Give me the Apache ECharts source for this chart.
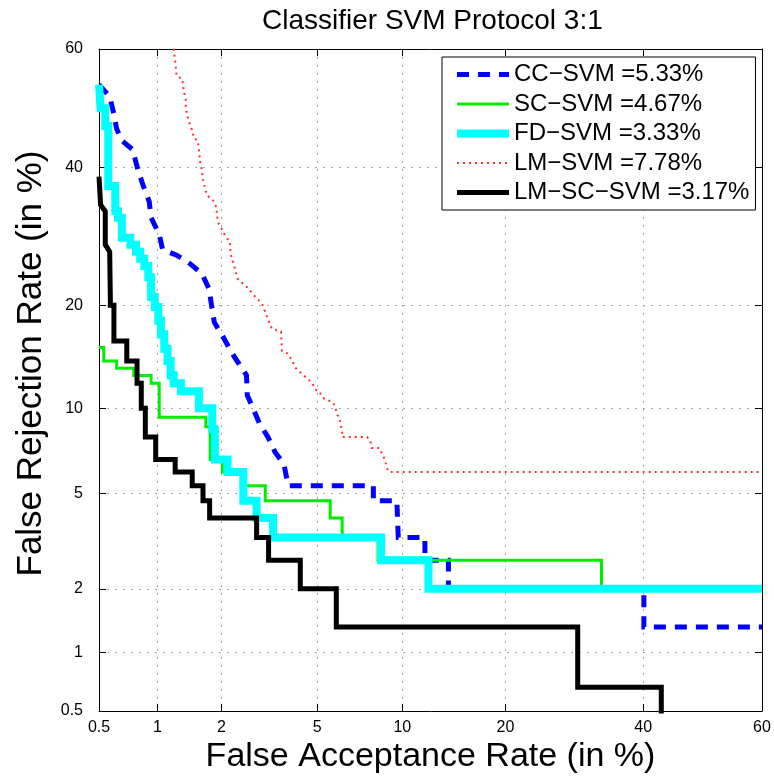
<!DOCTYPE html>
<html>
<head>
<meta charset="utf-8">
<title>Classifier SVM Protocol 3:1</title>
<script src="https://cdn.jsdelivr.net/npm/echarts@6/dist/echarts.min.js"></script>
<style>
  html, body { margin: 0; padding: 0; background: #fff; }
  #chart { width: 774px; height: 777px; }
</style>
</head>
<body>
<div id="chart"></div>
<script>
// DET curves, values in % : [FAR, FRR]
const ccSvm = [[0.5, 54], [0.57, 52], [0.6, 49], [0.62, 46.5], [0.66, 44.5], [0.75, 43], [0.8, 39.5], [0.85, 37],
  [0.91, 34.5], [0.93, 32], [1.02, 29.5], [1.06, 27.3], [1.24, 26.5], [1.44, 25.3], [1.63, 24], [1.76, 22],
  [1.81, 19.8], [1.86, 18], [2.03, 16.5], [2.2, 15], [2.35, 14], [2.58, 12.7], [2.6, 11], [2.75, 10],
  [2.93, 8.9], [3.18, 8], [3.4, 7.1], [3.7, 6.4], [3.85, 5.33], [8.0, 5.33], [8.0, 4.67], [9.6, 4.67],
  [9.7, 3.33], [11.8, 3.33], [11.8, 2.67], [13.9, 2.67], [13.9, 2.0], [40.1, 2.0], [40.1, 1.33], [60, 1.33]]
const scSvm = [[0.5, 15.33], [0.53, 15.33], [0.53, 14], [0.62, 14], [0.62, 13.33], [0.76, 13.33], [0.76, 12.67],
  [0.93, 12.67], [0.93, 12], [1.02, 12], [1.02, 9.33], [1.7, 9.33], [1.7, 8.67], [1.78, 8.67], [1.78, 6.67],
  [2.02, 6.67], [2.02, 6.0], [2.45, 6.0], [2.45, 5.33], [3.1, 5.33], [3.1, 4.67], [5.6, 4.67], [5.6, 4.0],
  [6.2, 4.0], [6.2, 3.33], [8.3, 3.33], [8.3, 2.67], [33.3, 2.67], [33.3, 2.0], [60, 2.0]]
const fdSvm = [[0.5, 54], [0.51, 54], [0.51, 50], [0.54, 50], [0.54, 47], [0.56, 47], [0.56, 37], [0.61, 37],
  [0.61, 33], [0.63, 33], [0.63, 32], [0.66, 32], [0.66, 29], [0.73, 29], [0.73, 28], [0.78, 28], [0.78, 27],
  [0.82, 27], [0.82, 26], [0.86, 26], [0.86, 25], [0.9, 25], [0.9, 23.5], [0.93, 23.5], [0.93, 21], [0.97, 21],
  [0.97, 19.8], [1.01, 19.8], [1.01, 18.2], [1.04, 18.2], [1.04, 16.7], [1.08, 16.7], [1.08, 15.2], [1.12, 15.2],
  [1.12, 14], [1.16, 14], [1.16, 12.7], [1.2, 12.7], [1.2, 12], [1.3, 12], [1.3, 11.33], [1.58, 11.33],
  [1.58, 10], [1.82, 10], [1.82, 8.5], [1.87, 8.5], [1.87, 6.67], [2.13, 6.67], [2.13, 6.0], [2.5, 6.0],
  [2.5, 4.67], [2.85, 4.67], [2.85, 4.0], [3.34, 4.0], [3.34, 3.33], [8.5, 3.33], [8.5, 2.67], [12.1, 2.67],
  [12.1, 2.0], [60, 2.0]]
const lmSvm = [[1.18, 62], [1.22, 58], [1.24, 55.5], [1.32, 55], [1.34, 53], [1.37, 51.5], [1.37, 50], [1.4, 48.5],
  [1.44, 47], [1.48, 46], [1.49, 45], [1.56, 44.5], [1.58, 43], [1.6, 41], [1.63, 39.5], [1.66, 37.5], [1.72, 35.5],
  [1.86, 34.5], [1.9, 33.5], [1.92, 32], [1.95, 31], [2.03, 30], [2.1, 29], [2.18, 28.5], [2.2, 26.7], [2.3, 24.6],
  [2.36, 23.3], [2.58, 22.3], [2.82, 21], [3.0, 20.2], [3.12, 19], [3.22, 18], [3.3, 17.3], [3.6, 17], [3.63, 15],
  [3.85, 14.7], [4.0, 14], [4.1, 13.4], [4.42, 12.7], [4.8, 12], [4.9, 11.5], [5.1, 11.3], [5.25, 10.8],
  [5.5, 10.6], [5.75, 10.4], [5.85, 10], [5.9, 9.8], [5.95, 9.5], [6.05, 9.33], [6.1, 9.0], [6.15, 8.67],
  [6.2, 8.4], [6.2, 8.0], [7.6, 8.0], [7.8, 7.8], [7.9, 7.33], [8.4, 7.33], [8.5, 7.1], [8.75, 6.67], [8.9, 6.2],
  [9.05, 6.0], [60, 6.0]]
const lmScSvm = [[0.5, 38.5], [0.51, 38.5], [0.51, 34], [0.54, 33], [0.54, 28], [0.57, 27], [0.575, 20], [0.6, 20],
  [0.6, 16], [0.7, 16], [0.7, 14], [0.79, 14], [0.79, 12], [0.83, 12], [0.83, 10], [0.87, 10], [0.87, 8],
  [0.98, 8], [0.98, 6.67], [1.22, 6.67], [1.22, 6.0], [1.47, 6.0], [1.47, 5.33], [1.65, 5.33], [1.65, 4.67],
  [1.77, 4.67], [1.77, 4.0], [2.85, 4.0], [2.85, 3.33], [3.2, 3.33], [3.2, 2.67], [4.3, 2.67], [4.3, 2.0],
  [5.9, 2.0], [5.9, 1.33], [29.7, 1.33], [29.7, 0.667], [43, 0.667], [43, 0.4]]

const seriesNames = ['CC−SVM =5.33%', 'SC−SVM =4.67%', 'FD−SVM =3.33%', 'LM−SVM =7.78%', 'LM−SC−SVM =3.17%']
const xTicks = [0.5, 1, 2, 5, 10, 20, 40, 60]
const yTicks = [0.5, 1, 2, 5, 10, 20, 40, 60]

const font = 'Liberation Sans, Arial, Helvetica, sans-serif'

// normal deviate (inverse normal CDF), Acklam
function probit(p) {
  const a = [-3.969683028665376e+01, 2.209460984245205e+02, -2.759285104469687e+02, 1.383577518672690e+02, -3.066479806614716e+01, 2.506628277459239e+00]
  const b = [-5.447609879822406e+01, 1.615858368580409e+02, -1.556989798598866e+02, 6.680131188771972e+01, -1.328068155288572e+01]
  const c = [-7.784894002430293e-03, -3.223964580411365e-01, -2.400758277161838e+00, -2.549732539343734e+00, 4.374664141464968e+00, 2.938163982698783e+00]
  const d = [7.784695709041462e-03, 3.224671290700398e-01, 2.445134137142996e+00, 3.754408661907416e+00]
  const plow = 0.02425
  let q, r
  if (p < plow) {
    q = Math.sqrt(-2 * Math.log(p))
    return (((((c[0] * q + c[1]) * q + c[2]) * q + c[3]) * q + c[4]) * q + c[5]) / ((((d[0] * q + d[1]) * q + d[2]) * q + d[3]) * q + 1)
  }
  if (p <= 1 - plow) {
    q = p - 0.5
    r = q * q
    return (((((a[0] * r + a[1]) * r + a[2]) * r + a[3]) * r + a[4]) * r + a[5]) * q / (((((b[0] * r + b[1]) * r + b[2]) * r + b[3]) * r + b[4]) * r + 1)
  }
  q = Math.sqrt(-2 * Math.log(1 - p))
  return -(((((c[0] * q + c[1]) * q + c[2]) * q + c[3]) * q + c[4]) * q + c[5]) / ((((d[0] * q + d[1]) * q + d[2]) * q + d[3]) * q + 1)
}

const toDev = pts => pts.map(([x, y]) => [probit(x / 100), probit(y / 100)])
const xTickVals = xTicks.map(t => probit(t / 100))
const yTickVals = yTicks.map(t => probit(t / 100))
const labelOf = ticks => v => {
  for (const t of ticks) if (Math.abs(probit(t / 100) - v) < 1e-6) return String(t)
  return ''
}

const styles = [
  { color: '#0000ff', width: 5, type: [12, 9] },
  { color: '#00ee00', width: 3, type: 'solid' },
  { color: '#00ffff', width: 8, type: 'solid' },
  { color: '#ff3030', width: 2, type: [2, 4] },
  { color: '#000000', width: 5, type: 'solid' }
]
const allData = [ccSvm, scSvm, fdSvm, lmSvm, lmScSvm]

function axisBase(min, max, vals) {
  return {
    type: 'value',
    min,
    max,
    axisLine: { show: true, onZero: false, lineStyle: { color: '#000', width: 1 } },
    axisTick: { show: true, inside: true, length: 7, customValues: vals, lineStyle: { color: '#000' } },
    nameMoveOverlap: false
  }
}

const chart = echarts.init(document.getElementById('chart'))
const option = {
  animation: false,
  backgroundColor: '#fff',
  title: {
    text: 'Classifier SVM Protocol 3:1',
    left: 262,
    top: 7,
    padding: 0,
    textStyle: { fontSize: 28, fontWeight: 'normal', color: '#000', fontFamily: font }
  },
  legend: {
    orient: 'vertical',
    left: 442,
    top: 57,
    padding: [5, 6, 5, 11],
    borderColor: '#000',
    borderWidth: 1,
    backgroundColor: '#fff',
    itemWidth: 52,
    itemHeight: 14,
    itemGap: 4.5,
    selectedMode: false,
    textStyle: { fontSize: 24, lineHeight: 25, color: '#000', fontFamily: font },
    data: seriesNames.map((n, i) => ({
      name: n,
      itemStyle: { opacity: 0, borderWidth: 0 },
      lineStyle: { width: styles[i].width, type: styles[i].type, color: styles[i].color, opacity: 1 }
    }))
  },
  grid: { left: 99, right: 12, top: 49, bottom: 66, containLabel: false, outerBoundsMode: 'none' },
  xAxis: [
    Object.assign(axisBase(probit(0.005), probit(0.6), xTickVals), {
      position: 'bottom',
      name: 'False Acceptance Rate (in %)',
      nameLocation: 'middle',
      nameGap: 29,
      nameTextStyle: { fontSize: 34, color: '#000', fontFamily: font },
      axisLabel: { customValues: xTickVals, formatter: labelOf(xTicks), fontSize: 16, color: '#000', margin: 9, fontFamily: font },
      splitLine: { show: true, lineStyle: { type: [2, 6], color: '#aaa', width: 1 } }
    }),
    Object.assign(axisBase(probit(0.005), probit(0.6), xTickVals), {
      position: 'top',
      axisLabel: { show: false },
      splitLine: { show: false }
    })
  ],
  yAxis: [
    Object.assign(axisBase(probit(0.005), probit(0.6), yTickVals), {
      position: 'left',
      name: 'False Rejection Rate (in %)',
      nameLocation: 'middle',
      nameGap: 50,
      nameTextStyle: { fontSize: 35, color: '#000', fontFamily: font, padding: [0, 0, 0, 33] },
      axisLabel: { customValues: yTickVals, formatter: labelOf(yTicks), fontSize: 16, color: '#000', margin: 16, fontFamily: font },
      splitLine: { show: true, lineStyle: { type: [2, 6], color: '#aaa', width: 1 } }
    }),
    Object.assign(axisBase(probit(0.005), probit(0.6), yTickVals), {
      position: 'right',
      axisLabel: { show: false },
      splitLine: { show: false }
    })
  ],
  series: allData.map((pts, i) => ({
    name: seriesNames[i],
    type: 'line',
    xAxisIndex: 0,
    yAxisIndex: 0,
    symbol: 'none',
    clip: true,
    lineStyle: { color: styles[i].color, width: styles[i].width, type: styles[i].type, cap: 'butt', join: 'miter' },
    itemStyle: { color: styles[i].color },
    data: toDev(pts)
  }))
}
chart.setOption(option)
</script>
</body>
</html>
